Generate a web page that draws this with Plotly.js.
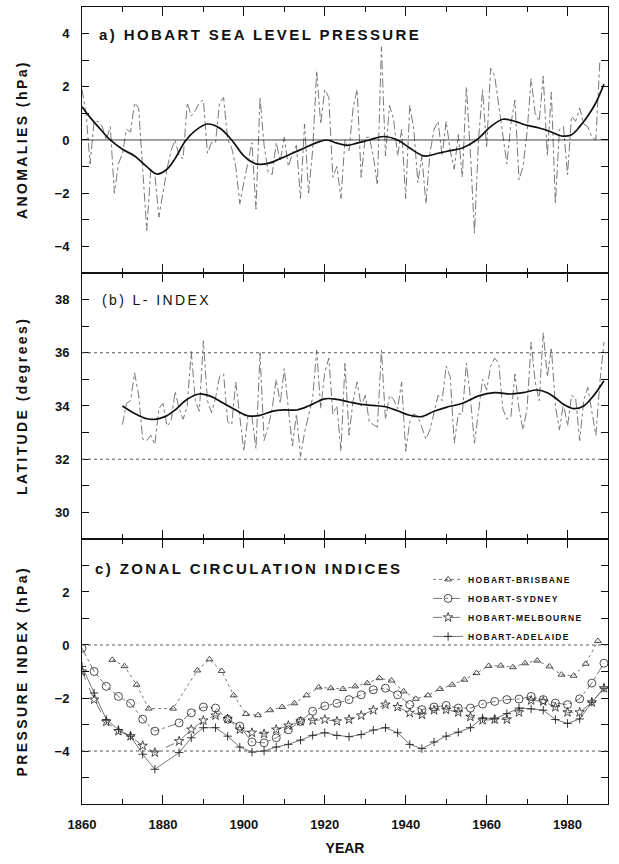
<!DOCTYPE html>
<html>
<head>
<meta charset="utf-8">
<script src="https://cdn.plot.ly/plotly-3.0.1.min.js"></script>
<style>
  html, body { margin: 0; padding: 0; background: #fff; }
  #chart { width: 619px; height: 864px; }
  text.annotation-text { letter-spacing: 2.4px; }
  text.legendtext { letter-spacing: 1.3px; }
  .xtick text { letter-spacing: 1.5px; }
  .xtitle { letter-spacing: 2px; }
</style>
</head>
<body>
<div id="chart"></div>
<script>
// ---------------- DATA ----------------
// (a) Hobart sea level pressure anomalies (hPa), annual, from 1860
const startYearA = 1860;
const anomaliesA = [
  1.9, 1.0, -0.9, 0.7, 0.7, 0.5, 0.0, 0.5, -2.0, -0.9,
  -0.5, 0.4, 0.3, 1.4, 1.2, -1.0, -3.4, -1.1, -1.3, -2.9,
  -2.0, -1.1, -0.4, 0.0, -0.6, -0.7, 1.4, 0.9, 1.1, 1.4,
  1.5, -0.5, -0.1, -0.1, 1.4, 1.6, 0.0, -0.3, -1.0, -2.4,
  -1.6, -0.8, -0.1, -2.6, 1.6, -0.2, -1.2, -1.3, -0.1, -0.8,
  0.1, -1.0, -0.5, -0.2, -2.2, 0.6, -2.0, -0.4, 2.6, 0.6,
  1.9, 1.6, -1.4, -1.0, -2.2, 0.0, -0.4, 1.2, 1.9, -1.4,
  0.1, 0.1, -0.6, -1.7, 3.5, -0.6, 1.3, 0.8, -0.6, 0.4,
  -2.2, 1.3, 0.4, -1.6, -0.6, -2.4, -0.5, 0.4, 0.7, -0.6,
  0.7, -0.4, -1.1, 0.2, -1.4, 2.0, -0.5, -3.5, 0.0, 1.9,
  -0.3, 2.7, 2.4, 1.3, 0.2, -0.9, 0.6, 1.5, -1.5, -1.0,
  0.3, 2.3, 1.0, 0.7, 2.4, -0.6, 1.8, -2.4, 0.4, 0.5,
  -1.3, 0.9, 0.7, 1.2, 0.6, 0.5, 0.1, 0.0, 3.0
];
// (a) smoothed curve
const smoothYearsA = [1860,1862,1864,1867,1870,1873,1876,1878.5,1881,1883,1885.5,1888,1891,1894,1897,1900,1903,1906,1909,1912,1915,1918,1920.5,1923,1925.5,1928,1931,1934.5,1938,1941,1944.5,1948,1951,1954,1957.5,1961,1964,1967,1970,1973,1976,1978.5,1981,1983,1985,1987,1989];
const smoothA = [1.25,0.85,0.5,0.0,-0.35,-0.6,-1.0,-1.28,-1.1,-0.7,-0.05,0.35,0.6,0.45,0.0,-0.6,-0.9,-0.88,-0.7,-0.5,-0.3,-0.1,0.0,-0.12,-0.2,-0.12,0.0,0.13,0.0,-0.3,-0.6,-0.5,-0.4,-0.3,0.0,0.5,0.78,0.7,0.55,0.45,0.3,0.15,0.2,0.5,0.9,1.4,2.1];

// (b) L-index latitude (degrees), annual, from 1870
const startYearB = 1870;
const latitudeB = [
  33.3, 34.1, 34.2, 35.25, 34.4, 32.75, 32.7, 32.9, 32.55, 33.9,
  34.1, 33.25, 33.4, 34.55, 33.9, 33.5, 34.0, 36.05, 34.2, 33.8,
  36.45, 34.2, 33.75, 34.3, 35.1, 35.2, 33.4, 33.3, 34.9, 33.7,
  32.3, 33.6, 33.6, 32.4, 36.0, 32.7, 33.2, 33.9, 35.0, 34.1,
  35.4, 33.9, 32.5, 33.7, 32.1, 33.0, 33.7, 34.3, 36.1, 33.9,
  35.25, 35.8, 33.7, 34.0, 32.3, 35.6, 32.9, 34.2, 34.9, 34.0,
  34.4, 33.4, 33.3, 33.2, 36.1, 33.5, 34.4, 34.25, 33.9, 34.9,
  32.3, 33.4, 33.7, 33.6, 33.2, 32.75, 33.1, 33.8, 34.4, 34.2,
  35.5, 35.1, 32.6, 33.7, 33.7, 35.6, 34.3, 32.6, 33.9, 35.0,
  34.6, 35.5, 35.8, 35.6, 33.9, 33.5, 33.6, 35.2, 33.9, 33.1,
  33.9, 36.4, 34.9, 34.2, 36.75, 35.1, 36.2, 34.0, 33.1, 34.1,
  33.25, 34.4, 34.3, 32.7, 34.2, 34.7, 33.8, 32.9, 34.9, 36.4
];
const smoothYearsB = [1870,1873,1876,1878,1880.5,1883,1886,1889,1892,1895,1898,1901,1904,1907,1910,1913,1916,1920,1923,1926,1929,1932,1935,1938,1941,1944,1947,1950,1954,1958,1962,1966,1969,1972.5,1975,1977,1979,1981.5,1984,1986.5,1989];
const smoothB = [34.0,33.72,33.52,33.5,33.6,33.85,34.25,34.45,34.35,34.1,33.85,33.63,33.65,33.8,33.85,33.85,34.0,34.27,34.25,34.15,34.06,34.02,33.97,33.82,33.65,33.6,33.8,33.95,34.1,34.38,34.5,34.45,34.5,34.6,34.5,34.3,34.06,33.9,34.0,34.4,34.95];

// (c) zonal circulation indices (hPa)
const seriesNames = ['HOBART-BRISBANE', 'HOBART-SYDNEY', 'HOBART-MELBOURNE', 'HOBART-ADELAIDE'];
const yearsBrisbane = [1867.5,1870.5,1873.5,1876.5,1882.5,1888.5,1891.5,1894.5,1897.5,1900.5,1903.5,1906.5,1909.5,1912.5,1915.5,1918.5,1921.5,1924.5,1927.5,1930.5,1933.5,1936.5,1939.5,1942.5,1945.5,1948.5,1951.5,1954.5,1957.5,1960.5,1963.5,1966.5,1969.5,1972.5,1975.5,1978.5,1981.5,1984.5,1987.5];
const brisbane = [-0.56,-0.8,-1.5,-2.4,-2.4,-0.96,-0.54,-0.98,-1.9,-2.6,-2.65,-2.46,-2.34,-2.2,-1.9,-1.6,-1.63,-1.66,-1.56,-1.44,-1.25,-1.34,-1.75,-2.03,-1.9,-1.66,-1.5,-1.31,-1.06,-0.79,-0.78,-0.84,-0.69,-0.59,-0.81,-1.12,-1.16,-0.71,0.15];
const yearsC = [1860,1863,1866,1869,1872,1875,1878,1884,1887,1890,1893,1896,1899,1902,1905,1908,1911,1914,1917,1920,1923,1926,1929,1932,1935,1938,1941,1944,1947,1950,1953,1956,1959,1962,1965,1968,1971,1974,1977,1980,1983,1986,1989];
const sydney = [-0.12,-1.0,-1.56,-1.94,-2.2,-2.8,-3.25,-2.94,-2.56,-2.34,-2.38,-2.8,-3.06,-3.66,-3.69,-3.5,-3.2,-2.88,-2.5,-2.3,-2.2,-2.06,-1.88,-1.69,-1.63,-1.88,-2.25,-2.44,-2.34,-2.28,-2.38,-2.38,-2.23,-2.13,-2.06,-2.04,-1.94,-2.06,-2.19,-2.25,-2.03,-1.44,-0.69];
const melbourne = [-1.0,-2.06,-2.9,-3.25,-3.44,-3.8,-4.06,-3.63,-3.19,-2.85,-2.66,-2.79,-3.19,-3.31,-3.35,-3.19,-3.04,-2.88,-2.85,-2.81,-2.88,-2.81,-2.66,-2.46,-2.25,-2.34,-2.56,-2.63,-2.46,-2.44,-2.54,-2.71,-2.84,-2.81,-2.81,-2.54,-2.09,-2.13,-2.35,-2.54,-2.54,-2.16,-1.63];
const adelaide = [-0.81,-1.81,-2.81,-3.19,-3.44,-4.12,-4.69,-4.06,-3.5,-3.12,-3.12,-3.44,-3.85,-4.04,-4.0,-3.85,-3.75,-3.59,-3.41,-3.31,-3.41,-3.46,-3.38,-3.21,-3.12,-3.31,-3.75,-3.91,-3.66,-3.44,-3.29,-3.12,-2.75,-2.79,-2.59,-2.38,-2.41,-2.46,-2.81,-2.96,-2.79,-2.16,-1.63];

// reference lines
const zeroLineA = [0];
const refLinesB = [32, 36];
const refLinesC = [0, -4];

// text
const panelTitles = ['a) HOBART SEA LEVEL PRESSURE', '(b) L- INDEX', 'c) ZONAL CIRCULATION INDICES'];
const yTitles = ['ANOMALIES (hPa)', 'LATITUDE (degrees)', 'PRESSURE INDEX (hPa)'];
const xTitle = 'YEAR';

// ---------------- BUILD ----------------
const yearsA = anomaliesA.map((_, i) => startYearA + i);
const yearsB = latitudeB.map((_, i) => startYearB + i);

const FONT = 'Liberation Sans, Arial, Helvetica, sans-serif';
const INK = '#111';
const GREY = '#6a6a6a';

const traces = [
  { x: yearsA, y: anomaliesA, xaxis: 'x', yaxis: 'y', mode: 'lines', showlegend: false,
    line: { color: GREY, width: 0.9, dash: 'dashdot' }, hoverinfo: 'skip' },
  { x: smoothYearsA, y: smoothA, xaxis: 'x', yaxis: 'y', mode: 'lines', showlegend: false,
    line: { color: INK, width: 1.7, shape: 'spline' }, hoverinfo: 'skip' },
  { x: yearsB, y: latitudeB, xaxis: 'x2', yaxis: 'y2', mode: 'lines', showlegend: false,
    line: { color: GREY, width: 0.9, dash: 'dashdot' }, hoverinfo: 'skip' },
  { x: smoothYearsB, y: smoothB, xaxis: 'x2', yaxis: 'y2', mode: 'lines', showlegend: false,
    line: { color: INK, width: 1.7, shape: 'spline' }, hoverinfo: 'skip' },
  { x: yearsBrisbane, y: brisbane, xaxis: 'x3', yaxis: 'y3', mode: 'lines+markers', name: seriesNames[0],
    line: { color: '#555', width: 0.8, dash: 'dot' },
    marker: { symbol: 'triangle-up-open', size: 6, color: '#222', line: { width: 0.8, color: '#222' } } },
  { x: yearsC, y: sydney, xaxis: 'x3', yaxis: 'y3', mode: 'lines+markers', name: seriesNames[1],
    line: { color: '#555', width: 0.8, dash: 'dashdot' },
    marker: { symbol: 'circle-open', size: 8, color: '#222', line: { width: 0.8, color: '#222' } } },
  { x: yearsC, y: melbourne, xaxis: 'x3', yaxis: 'y3', mode: 'lines+markers', name: seriesNames[2],
    line: { color: '#555', width: 0.8, dash: 'dash' },
    marker: { symbol: 'star-open', size: 7, color: '#222', line: { width: 0.8, color: '#222' } } },
  { x: yearsC, y: adelaide, xaxis: 'x3', yaxis: 'y3', mode: 'lines+markers', name: seriesNames[3],
    line: { color: '#555', width: 0.8, dash: 'solid' },
    marker: { symbol: 'cross-thin-open', size: 6, color: '#222', line: { width: 0.9, color: '#222' } } }
];

const xCommon = () => ({
  range: [1860, 1990], tick0: 1860, dtick: 20, ticks: 'inside', ticklen: 9, tickwidth: 1, tickcolor: INK,
  showline: true, linecolor: INK, linewidth: 1, mirror: 'allticks', showgrid: false, zeroline: false,
  minor: { dtick: 10, ticks: 'inside', ticklen: 5, tickwidth: 1, tickcolor: INK, showgrid: false },
  showticklabels: false, fixedrange: true
});
const yCommon = (range, tick0, domain) => ({
  range: range, tick0: tick0, dtick: 2, domain: domain, ticks: 'inside', ticklen: 7, tickwidth: 1, tickcolor: INK,
  showline: true, linecolor: INK, linewidth: 1, mirror: 'allticks', showgrid: false, zeroline: false,
  minor: { dtick: 1, ticks: 'inside', ticklen: 7, tickwidth: 1, tickcolor: INK, showgrid: false },
  tickfont: { family: FONT, size: 13, weight: 'bold', color: INK }, ticklabelstandoff: 9, fixedrange: true
});

const dA = [0.6663, 1], dB = [0.3325, 0.6663], dC = [0, 0.3325];

const shapes = [];
zeroLineA.forEach(v => shapes.push({ type: 'line', xref: 'x domain', x0: 0, x1: 1, yref: 'y', y0: v, y1: v,
  line: { color: INK, width: 0.8 } }));
refLinesB.forEach(v => shapes.push({ type: 'line', xref: 'x2 domain', x0: 0, x1: 1, yref: 'y2', y0: v, y1: v,
  line: { color: '#555', width: 1, dash: 'dot' } }));
refLinesC.forEach(v => shapes.push({ type: 'line', xref: 'x3 domain', x0: 0, x1: 1, yref: 'y3', y0: v, y1: v,
  line: { color: '#555', width: 1, dash: 'dot' } }));

const annotations = [
  { text: panelTitles[0], xref: 'paper', yref: 'paper', x: 0.0285, y: 0.9649, xanchor: 'left', yanchor: 'middle',
    showarrow: false, font: { family: FONT, size: 15, weight: 'bold', color: INK } },
  { text: panelTitles[1], xref: 'paper', yref: 'paper', x: 0.034, y: 0.632, xanchor: 'left', yanchor: 'middle',
    showarrow: false, font: { family: FONT, size: 14, color: INK } },
  { text: panelTitles[2], xref: 'paper', yref: 'paper', x: 0.021, y: 0.296, xanchor: 'left', yanchor: 'middle',
    showarrow: false, font: { family: FONT, size: 15, weight: 'bold', color: INK } }
];
[[yTitles[0], dA], [yTitles[1], dB], [yTitles[2], dC]].forEach(([t, d]) => annotations.push({
  text: t, xref: 'paper', yref: 'paper', x: -0.114, y: (d[0] + d[1]) / 2, xanchor: 'center', yanchor: 'middle',
  textangle: -90, showarrow: false, font: { family: FONT, size: 14, weight: 'bold', color: INK }
}));

const layout = {
  width: 619, height: 864,
  margin: { l: 82, r: 11, t: 7, b: 60 },
  paper_bgcolor: '#fff', plot_bgcolor: '#fff',
  font: { family: FONT, color: INK },
  showlegend: true,
  legend: { x: 0.658, y: 0.300, xanchor: 'left', yanchor: 'top', bgcolor: 'rgba(0,0,0,0)',
    font: { family: FONT, size: 8.5, weight: 'bold', color: INK }, itemwidth: 30, tracegroupgap: 0 },
  xaxis: Object.assign(xCommon(), { anchor: 'y' }),
  xaxis2: Object.assign(xCommon(), { anchor: 'y2' }),
  xaxis3: Object.assign(xCommon(), { anchor: 'y3', showticklabels: true, ticklabelstandoff: 8,
    tickfont: { family: FONT, size: 13, weight: 'bold', color: INK },
    title: { text: xTitle, standoff: 12, font: { family: FONT, size: 14, weight: 'bold', color: INK } } }),
  yaxis: yCommon([-5, 5], 0, dA),
  yaxis2: yCommon([29, 39], 30, dB),
  yaxis3: yCommon([-5.999, 3.999], 0, dC),
  shapes: shapes,
  annotations: annotations
};

Plotly.newPlot('chart', traces, layout, { displayModeBar: false, staticPlot: true });
</script>
</body>
</html>
